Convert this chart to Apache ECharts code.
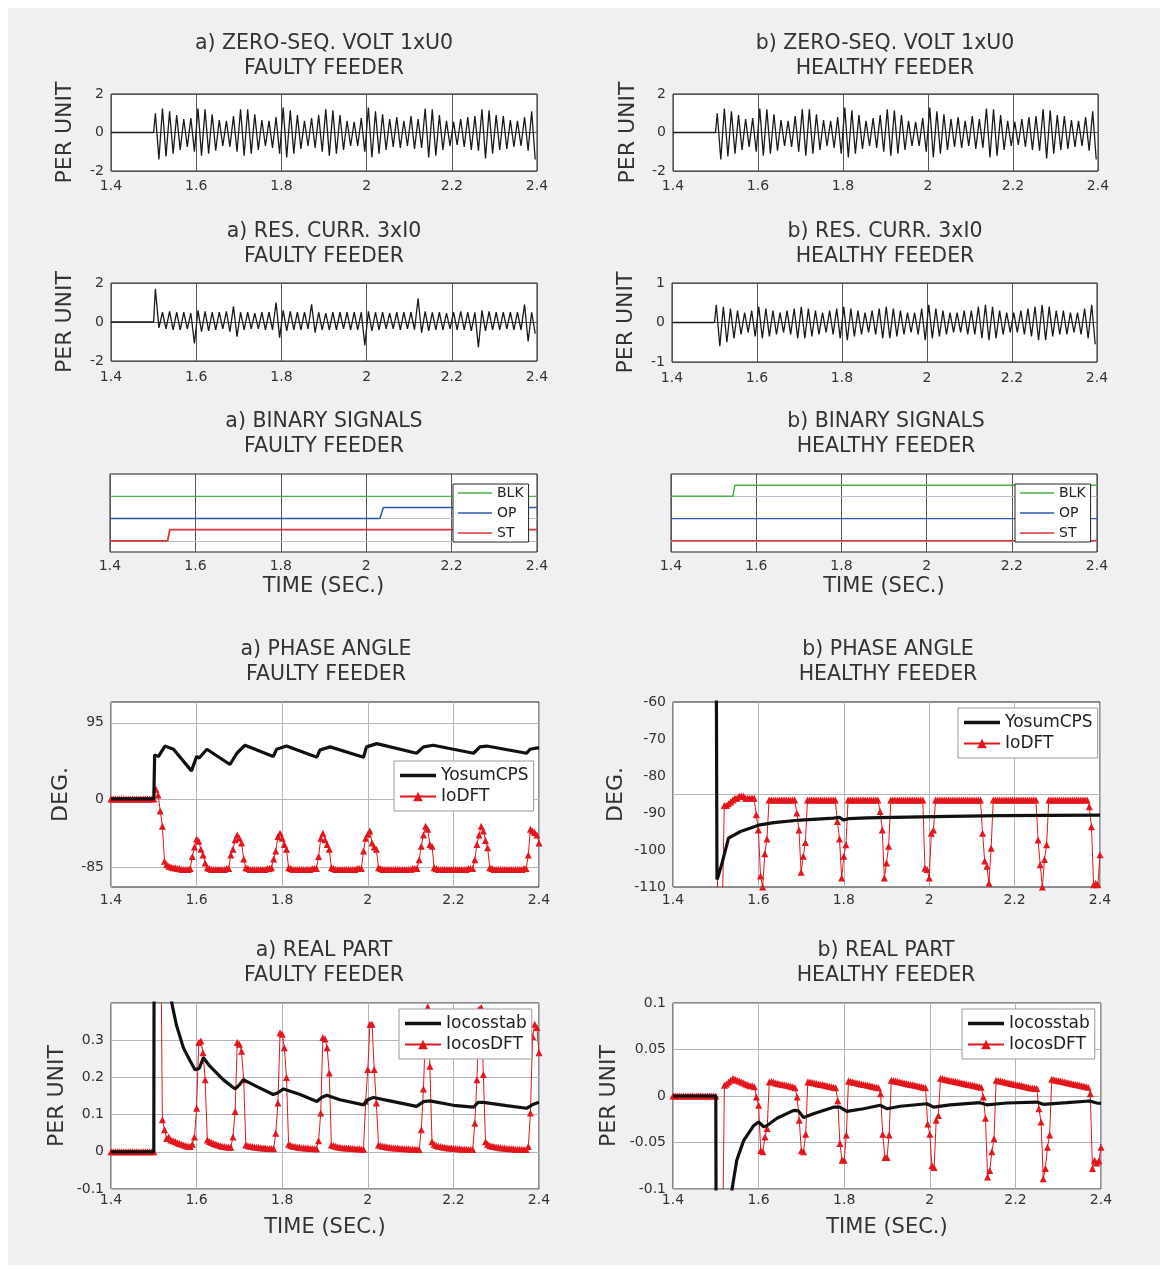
<!DOCTYPE html>
<html><head><meta charset="utf-8">
<script src="https://cdn.jsdelivr.net/npm/echarts@6/dist/echarts.min.js"></script>
<style>
html,body{margin:0;padding:0;background:#fff;}
#wrap{position:relative;width:1168px;height:1273px;}
#bg{position:absolute;left:8px;top:8px;width:1152px;height:1257px;background:#f0f0f2;}
#c{position:absolute;left:0;top:0;width:1168px;height:1273px;}
</style>
</head><body><div id="wrap"><div id="bg"></div><div id="c"></div></div>
<script>
// ---------- DATA ----------
const X_TICKS = [1.4, 1.6, 1.8, 2.0, 2.2, 2.4];

// zero-sequence voltage / residual current: successive half-cycle extremes (60 Hz), starting at 1.5 s
const WAVE_T0 = 1.5;
const WAVE_DT = 1 / 120;
const U0_PEAKS = [
  1.0,-1.4, 1.25,-1.25, 1.1,-1.1, 0.9,-0.9, 0.7,-0.75, 0.75,-1.0,
  1.25,-1.2, 1.2,-1.1, 0.95,-0.95, 0.65,-0.7, 0.6,-0.75, 0.85,-1.0,
  1.2,-1.2, 1.2,-1.1, 0.95,-0.9, 0.65,-0.7, 0.6,-0.8, 0.8,-1.1,
  1.3,-1.3, 1.15,-1.1, 0.9,-0.85, 0.6,-0.7, 0.75,-0.8, 0.9,-1.0,
  1.2,-1.2, 1.15,-1.1, 0.9,-0.9, 0.6,-0.7, 0.55,-0.7, 0.75,-1.0,
  1.3,-1.3, 1.1,-1.1, 0.95,-0.9, 0.7,-0.75, 0.8,-0.8, 0.6,-0.7, 0.85,-0.85, 0.7,-0.8,
  1.25,-1.3, 1.2,-1.2, 0.9,-0.9, 0.6,-0.7, 0.55,-0.65, 0.7,-0.75, 0.8,-0.9, 0.85,-0.95,
  1.2,-1.35, 1.15,-1.1, 0.9,-0.9, 0.85,-0.85, 0.65,-0.75, 0.6,-0.7, 0.8,-0.95, 1.1,-1.4
];
const IRES_A_PEAKS = [
  1.7,-0.3, 0.5,-0.35, 0.55,-0.4, 0.5,-0.4, 0.5,-0.35, 0.45,-1.1,
  0.6,-0.5, 0.55,-0.45, 0.5,-0.4, 0.5,-0.35, 0.55,-0.5, 0.8,-0.75,
  0.5,-0.4, 0.5,-0.35, 0.45,-0.35, 0.5,-0.4, 0.5,-0.4, 1.0,-0.8,
  0.6,-0.45, 0.55,-0.4, 0.5,-0.4, 0.5,-0.35, 0.9,-0.55, 0.5,-0.4,
  0.45,-0.4, 0.5,-0.4, 0.5,-0.35, 0.5,-0.4, 0.5,-0.4, 0.5,-1.2,
  0.55,-0.45, 0.5,-0.4, 0.5,-0.35, 0.45,-0.35, 0.5,-0.4, 0.5,-0.35, 0.5,-0.4, 1.2,-0.55,
  0.55,-0.45, 0.5,-0.4, 0.5,-0.4, 0.45,-0.35, 0.5,-0.4, 0.55,-0.4, 0.5,-0.45, 0.5,-1.3,
  0.6,-0.45, 0.55,-0.4, 0.5,-0.4, 0.5,-0.35, 0.5,-0.4, 0.5,-0.4, 0.9,-1.0, 0.5,-0.6
];
const IRES_B_PEAKS = [
  0.45,-0.6, 0.4,-0.5, 0.35,-0.4, 0.3,-0.3, 0.25,-0.25, 0.3,-0.35,
  0.4,-0.4, 0.35,-0.35, 0.3,-0.3, 0.25,-0.25, 0.3,-0.3, 0.35,-0.4,
  0.4,-0.4, 0.35,-0.35, 0.3,-0.3, 0.25,-0.25, 0.3,-0.3, 0.35,-0.4,
  0.4,-0.45, 0.35,-0.35, 0.3,-0.3, 0.25,-0.25, 0.3,-0.3, 0.35,-0.4,
  0.4,-0.4, 0.35,-0.35, 0.3,-0.3, 0.25,-0.25, 0.25,-0.3, 0.35,-0.45,
  0.45,-0.4, 0.35,-0.35, 0.3,-0.3, 0.25,-0.25, 0.25,-0.25, 0.3,-0.3, 0.3,-0.3, 0.4,-0.4,
  0.45,-0.45, 0.4,-0.4, 0.3,-0.3, 0.25,-0.25, 0.25,-0.25, 0.3,-0.3, 0.35,-0.35, 0.4,-0.45,
  0.45,-0.45, 0.4,-0.35, 0.3,-0.3, 0.3,-0.3, 0.25,-0.25, 0.25,-0.3, 0.35,-0.4, 0.45,-0.55
];

// binary signals (time breakpoints, levels)
const BLK_A_T = [1.4, 2.4];              const BLK_A_V = [4, 4];
const OP_A_T  = [1.4, 2.032, 2.04, 2.4]; const OP_A_V  = [2, 2, 3, 3];
const ST_A_T  = [1.4, 1.535, 1.54, 2.4]; const ST_A_V  = [0, 0, 1, 1];
const BLK_B_T = [1.4, 1.545, 1.55, 2.4]; const BLK_B_V = [4, 4, 5, 5];
const OP_B_T  = [1.4, 2.4];              const OP_B_V  = [2, 2];
const ST_B_T  = [1.4, 2.4];              const ST_B_V  = [0, 0];

// DFT outputs sampled every 5 ms from 1.40 s (rows of 10 samples = 50 ms)
const DFT_T0 = 1.4;
const DFT_DT = 0.005;
const PA_IODFT = [
  0,0,0,0,0,0,0,0,0,0,
  0,0,0,0,0,0,0,0,0,0,
  0,12,5,-15,-34,-78,-82,-84,-85,-86,
  -86,-87,-87,-88,-88,-88,-88,-87,-72,-60,
  -50,-53,-63,-70,-80,-86,-87,-88,-88,-88,
  -88,-88,-88,-88,-87,-87,-70,-63,-51,-45,
  -49,-55,-75,-86,-87,-88,-88,-88,-88,-88,
  -88,-88,-88,-87,-87,-86,-75,-65,-47,-43,
  -49,-57,-63,-86,-87,-88,-88,-88,-88,-88,
  -88,-88,-88,-88,-87,-87,-87,-72,-49,-43,
  -51,-57,-63,-86,-87,-88,-88,-88,-88,-88,
  -88,-88,-88,-88,-88,-87,-87,-87,-65,-49,
  -44,-40,-55,-60,-63,-86,-87,-88,-88,-88,
  -88,-88,-88,-88,-88,-88,-88,-88,-88,-88,
  -88,-87,-87,-87,-76,-59,-45,-34,-38,-57,
  -59,-86,-87,-88,-88,-88,-88,-88,-88,-88,
  -88,-88,-88,-88,-88,-88,-88,-87,-87,-87,
  -76,-57,-45,-34,-40,-52,-61,-86,-87,-88,
  -88,-88,-88,-88,-88,-88,-88,-88,-88,-88,
  -88,-88,-88,-87,-87,-70,-38,-40,-42,-45,
  -55
];
const PB_IODFT = [
  0,0,0,0,0,0,0,0,0,0,
  0,0,0,0,0,0,0,0,0,0,
  0,-130,-125,-120,-88,-88,-87.5,-87,-86.5,-86,
  -86,-85.5,-85.5,-85.5,-86,-86,-86,-86,-86,-90.5,
  -94.6,-107,-110,-101,-97,-86.5,-86.5,-86.5,-86.5,-86.5,
  -86.5,-86.5,-86.5,-86.5,-86.5,-86.5,-86.5,-86.5,-90,-94.6,
  -106,-101.7,-98,-86.5,-86.5,-86.5,-86.5,-86.5,-86.5,-86.5,
  -86.5,-86.5,-86.5,-86.5,-86.5,-86.5,-86.5,-92.3,-97,-107.6,
  -101.7,-98.6,-86.5,-86.5,-86.5,-86.5,-86.5,-86.5,-86.5,-86.5,
  -86.5,-86.5,-86.5,-86.5,-86.5,-86.5,-86.5,-89.6,-94.6,-107.6,
  -103.5,-99,-86.5,-86.5,-86.5,-86.5,-86.5,-86.5,-86.5,-86.5,
  -86.5,-86.5,-86.5,-86.5,-86.5,-86.5,-86.5,-86.5,-104.9,-105.3,
  -107.6,-95.5,-94.6,-86.5,-86.5,-86.5,-86.5,-86.5,-86.5,-86.5,
  -86.5,-86.5,-86.5,-86.5,-86.5,-86.5,-86.5,-86.5,-86.5,-86.5,
  -86.5,-86.5,-86.5,-86.5,-86.5,-95.5,-103,-104.4,-109,-99.5,
  -86.5,-86.5,-86.5,-86.5,-86.5,-86.5,-86.5,-86.5,-86.5,-86.5,
  -86.5,-86.5,-86.5,-86.5,-86.5,-86.5,-86.5,-86.5,-86.5,-86.5,
  -86.5,-97.3,-104,-110,-102.6,-98.6,-86.5,-86.5,-86.5,-86.5,
  -86.5,-86.5,-86.5,-86.5,-86.5,-86.5,-86.5,-86.5,-86.5,-86.5,
  -86.5,-86.5,-86.5,-86.5,-86.5,-88.3,-93.7,-109.4,-109,-109.4,
  -101.3
];
const RA_DFT = [
  0,0,0,0,0,0,0,0,0,0,
  0,0,0,0,0,0,0,0,0,0,
  0,1.2,1.0,0.8,0.086,0.059,0.036,0.04,0.032,0.03,
  0.028,0.024,0.022,0.02,0.018,0.016,0.015,0.014,0.02,0.04,
  0.117,0.294,0.298,0.266,0.194,0.032,0.028,0.025,0.022,0.02,
  0.018,0.016,0.015,0.014,0.013,0.012,0.012,0.04,0.108,0.294,
  0.289,0.27,0.194,0.018,0.016,0.015,0.014,0.013,0.012,0.012,
  0.011,0.01,0.01,0.009,0.009,0.009,0.008,0.05,0.131,0.32,
  0.316,0.28,0.2,0.02,0.017,0.015,0.014,0.013,0.012,0.011,
  0.011,0.01,0.01,0.009,0.009,0.008,0.008,0.03,0.104,0.307,
  0.303,0.28,0.212,0.018,0.016,0.015,0.013,0.012,0.011,0.011,
  0.01,0.01,0.009,0.009,0.008,0.008,0.008,0.007,0.007,0.136,
  0.221,0.343,0.343,0.221,0.131,0.018,0.016,0.015,0.014,0.013,
  0.012,0.011,0.011,0.01,0.01,0.009,0.009,0.008,0.008,0.008,
  0.007,0.007,0.007,0.006,0.006,0.059,0.169,0.33,0.39,0.23,
  0.027,0.02,0.017,0.015,0.014,0.013,0.012,0.011,0.01,0.01,
  0.009,0.009,0.008,0.008,0.007,0.007,0.007,0.006,0.006,0.006,
  0.077,0.194,0.384,0.388,0.208,0.027,0.02,0.017,0.015,0.014,
  0.013,0.012,0.011,0.01,0.01,0.009,0.009,0.008,0.008,0.007,
  0.007,0.007,0.006,0.006,0.006,0.014,0.104,0.31,0.343,0.334,
  0.266
];
const RB_DFT = [
  0,0,0,0,0,0,0,0,0,0,
  0,0,0,0,0,0,0,0,0,0,
  0,-0.5,-0.3,-0.2,0.0115,0.013,0.015,0.017,0.0187,0.018,
  0.017,0.016,0.015,0.014,0.013,0.012,0.011,0.011,0.01,-0.001,
  -0.01,-0.0586,-0.06,-0.044,-0.035,0.015,0.0155,0.015,0.014,0.0135,
  0.013,0.0125,0.012,0.0115,0.011,0.0105,0.01,0.009,-0.001,-0.026,
  -0.059,-0.06,-0.041,0.015,0.015,0.0145,0.014,0.0135,0.013,0.0125,
  0.012,0.0115,0.011,0.0105,0.01,0.0095,0.009,-0.005,-0.051,-0.069,
  -0.069,-0.042,0.016,0.0155,0.015,0.0145,0.014,0.0135,0.013,0.0125,
  0.012,0.0115,0.011,0.0105,0.01,0.0095,0.009,0.0025,-0.041,-0.066,
  -0.066,-0.042,0.017,0.0165,0.016,0.0155,0.015,0.0145,0.014,0.0135,
  0.013,0.0125,0.012,0.0115,0.011,0.0105,0.01,0.0095,0.009,-0.03,
  -0.041,-0.075,-0.077,-0.026,-0.021,0.019,0.0185,0.018,0.0175,0.017,
  0.0165,0.016,0.0155,0.015,0.0145,0.014,0.0135,0.013,0.0125,0.012,
  0.0115,0.011,0.0105,0.01,0.0095,-0.001,-0.024,-0.087,-0.08,-0.06,
  -0.046,0.017,0.0165,0.016,0.0155,0.015,0.0145,0.014,0.0135,0.013,
  0.0125,0.012,0.0115,0.011,0.0105,0.01,0.0095,0.009,0.0085,0.008,
  0.008,-0.0137,-0.028,-0.089,-0.078,-0.055,-0.042,0.018,0.0175,0.017,
  0.0165,0.016,0.0155,0.015,0.0145,0.014,0.0135,0.013,0.0125,0.012,
  0.0115,0.011,0.0105,0.01,0.0095,0.0025,-0.078,-0.069,-0.072,-0.07,
  -0.055
];

// stabilised outputs (time breakpoints, values)
const PA_YOSUM_T = [1.40,1.50,1.502,1.511,1.526,1.546,1.588,1.600,1.606,1.624,1.678,1.694,1.713,1.779,1.787,1.810,1.881,1.888,1.912,1.990,1.997,2.021,2.114,2.130,2.153,2.247,2.262,2.278,2.371,2.379,2.400];
const PA_YOSUM_V = [0,0,55,53,66,62,35,53,51,62,43,57,67,53,62,66,52,61,65,52,65,69,57,65,67,57,65,66,57,62,64];
const PB_YOSUM_T = [1.40,1.50,1.503,1.506,1.515,1.530,1.558,1.604,1.636,1.698,1.776,1.790,1.800,1.812,1.854,2.010,2.166,2.400];
const PB_YOSUM_V = [0,0,-108,-107,-103.5,-96.8,-95,-93.2,-92.6,-91.9,-91.4,-91.2,-91.9,-91.5,-91.3,-91,-90.7,-90.6];
const RA_STAB_T = [1.40,1.50,1.502,1.52,1.535,1.542,1.553,1.569,1.585,1.596,1.606,1.616,1.631,1.662,1.690,1.700,1.709,1.740,1.779,1.789,1.803,1.842,1.881,1.892,1.904,1.935,1.990,2.000,2.013,2.060,2.114,2.130,2.145,2.200,2.247,2.258,2.270,2.324,2.371,2.387,2.400];
const RA_STAB_V = [0,0,1.5,0.9,0.55,0.40,0.34,0.28,0.244,0.221,0.224,0.253,0.23,0.194,0.169,0.18,0.194,0.176,0.154,0.158,0.169,0.154,0.135,0.146,0.152,0.14,0.126,0.14,0.146,0.135,0.122,0.135,0.137,0.125,0.12,0.133,0.133,0.124,0.117,0.128,0.133];
const RB_STAB_T = [1.40,1.50,1.503,1.52,1.53,1.538,1.549,1.565,1.588,1.600,1.612,1.619,1.643,1.682,1.693,1.705,1.728,1.775,1.790,1.806,1.845,1.884,1.900,1.931,1.993,2.009,2.047,2.117,2.133,2.180,2.250,2.265,2.320,2.374,2.390,2.400];
const RB_STAB_V = [0,0,-0.6,-0.3,-0.15,-0.1,-0.069,-0.048,-0.032,-0.028,-0.033,-0.032,-0.024,-0.0155,-0.016,-0.023,-0.019,-0.012,-0.012,-0.0165,-0.0137,-0.010,-0.0137,-0.011,-0.0083,-0.012,-0.0095,-0.0072,-0.0095,-0.0075,-0.0065,-0.009,-0.0072,-0.0054,-0.0075,-0.008];

const PA_Y_TICKS = [-85, 0, 95];

// ---------- BUILD ----------
const FONT = '"DejaVu Sans", "Open Sans", sans-serif';
const TXT = '#333';
const RED = '#e3161d';
const BLACK = '#111';

function waveData(peaks) {
  const d = [[1.4, 0], [WAVE_T0, 0]];
  peaks.forEach((v, k) => d.push([WAVE_T0 + (k + 0.5) * WAVE_DT, v]));
  return d;
}
function dftData(arr) { return arr.map((v, i) => [Math.round((DFT_T0 + i * DFT_DT) * 1000) / 1000, v]); }
function pairData(T, V) { return T.map((t, i) => [t, V[i]]); }

const G = [
  {left:111, top:94,  width:426, height:77},
  {left:673, top:94,  width:425, height:77},
  {left:111, top:283, width:426, height:78},
  {left:672, top:283, width:425, height:79},
  {left:110, top:474, width:427, height:78},
  {left:671, top:474, width:426, height:78},
  {left:111, top:702, width:428, height:185},
  {left:673, top:702, width:427, height:185},
  {left:111, top:1003, width:428, height:186},
  {left:673, top:1003, width:428, height:186}
];
const grid = G.map(g => Object.assign({show:true, backgroundColor:'#fff', borderColor:'#222', borderWidth:1, containLabel:false}, g));

const yNameStyle = {fontSize:22, color:TXT, fontFamily:FONT};
const xNameStyle = {fontSize:21, color:TXT, fontFamily:FONT};
function xAx(g, splitColor, margin, name, gap) {
  return {type:'value', gridIndex:g, min:X_TICKS[0], max:X_TICKS[X_TICKS.length-1], interval:0.2,
    axisLine:{show:false}, axisTick:{show:false},
    axisLabel:{fontSize:14, color:TXT, fontFamily:FONT, margin:margin},
    splitLine:{show:true, lineStyle:{color:splitColor, width:1}},
    name:name || '', nameLocation:'middle', nameGap:gap || 0, nameTextStyle:xNameStyle};
}
const yLab = {fontSize:14, color:TXT, fontFamily:FONT, margin:7};
function yAx(g, o) {
  return Object.assign({type:'value', gridIndex:g, axisLine:{show:false}, axisTick:{show:false},
    axisLabel:yLab, splitLine:{show:false}, nameLocation:'middle', nameTextStyle:yNameStyle}, o);
}
const DARK = '#555', LIGHT = '#b5b5b5';
const xAxis = [
  xAx(0, DARK, 8), xAx(1, DARK, 8), xAx(2, DARK, 9), xAx(3, DARK, 9),
  xAx(4, DARK, 7, 'TIME (SEC.)', 24), xAx(5, DARK, 7, 'TIME (SEC.)', 24),
  xAx(6, LIGHT, 6), xAx(7, LIGHT, 6),
  xAx(8, LIGHT, 4, 'TIME (SEC.)', 28), xAx(9, LIGHT, 4, 'TIME (SEC.)', 28)
];
const yAxis = [
  yAx(0, {min:-2, max:2, interval:2, name:'PER UNIT', nameGap:35, splitLine:{show:true, lineStyle:{color:DARK}}}),
  yAx(1, {min:-2, max:2, interval:2, name:'PER UNIT', nameGap:34, splitLine:{show:true, lineStyle:{color:DARK}}}),
  yAx(2, {min:-2, max:2, interval:2, name:'PER UNIT', nameGap:35, splitLine:{show:true, lineStyle:{color:DARK}}}),
  yAx(3, {min:-1, max:1, interval:1, name:'PER UNIT', nameGap:35, splitLine:{show:true, lineStyle:{color:DARK}}}),
  yAx(4, {min:-1, max:6, interval:1, axisLabel:{show:false}}),
  yAx(5, {min:-1, max:6, interval:1, axisLabel:{show:false}}),
  yAx(6, {min:-110, max:121, name:'DEG.', nameGap:39, axisLabel:Object.assign({customValues:PA_Y_TICKS}, yLab)}),
  yAx(7, {min:-110, max:-60, interval:10, name:'DEG.', nameGap:46}),
  yAx(8, {min:-0.1, max:0.4, interval:0.1, name:'PER UNIT', nameGap:43,
    splitLine:{show:true, lineStyle:{color:LIGHT}},
    axisLabel:Object.assign({}, yLab, {formatter:v => (v > 0.35 ? '' : String(+v.toFixed(2)))})}),
  yAx(9, {min:-0.1, max:0.1, interval:0.05, name:'PER UNIT', nameGap:53, splitLine:{show:true, lineStyle:{color:LIGHT}}})
];

function hLines(i, vals, color) {
  return {type:'line', xAxisIndex:i, yAxisIndex:i, data:[], silent:true, z:1,
    markLine:{silent:true, z:1, symbol:['none','none'], label:{show:false}, animation:false,
      lineStyle:{color:color, width:1, type:'solid'}, emphasis:{disabled:true},
      data:vals.map(v => ({yAxis:v}))}};
}
function plain(i, name, data, color, width) {
  return {type:'line', name:name, xAxisIndex:i, yAxisIndex:i, data:data, symbol:'none', showSymbol:false,
    lineStyle:{color:color, width:width}, itemStyle:{color:color}, animation:false, z:3, emphasis:{disabled:true}};
}
function marked(i, name, data) {
  return {type:'line', name:name, xAxisIndex:i, yAxisIndex:i, data:data, symbol:'triangle', symbolSize:7, showSymbol:true,
    lineStyle:{color:RED, width:1}, itemStyle:{color:RED}, animation:false, z:2, emphasis:{disabled:true}};
}
const GREEN = '#49b049', BLUE = '#2a5aa8', BRED = '#e0303a';
const series = [
  plain(0, 'U0a', waveData(U0_PEAKS), '#1a1a1a', 1.3),
  plain(1, 'U0b', waveData(U0_PEAKS), '#1a1a1a', 1.3),
  plain(2, 'I0a', waveData(IRES_A_PEAKS), '#1a1a1a', 1.3),
  plain(3, 'I0b', waveData(IRES_B_PEAKS), '#1a1a1a', 1.3),
  hLines(4, [0, 2, 4], '#b8bfcc'),
  hLines(5, [0, 2, 4], '#b8bfcc'),
  plain(4, 'BLK', pairData(BLK_A_T, BLK_A_V), GREEN, 1.2),
  plain(4, 'OP', pairData(OP_A_T, OP_A_V), BLUE, 1.5),
  plain(4, 'ST', pairData(ST_A_T, ST_A_V), BRED, 1.8),
  plain(5, 'BLK', pairData(BLK_B_T, BLK_B_V), GREEN, 1.5),
  plain(5, 'OP', pairData(OP_B_T, OP_B_V), BLUE, 1.2),
  plain(5, 'ST', pairData(ST_B_T, ST_B_V), BRED, 1.5),
  hLines(6, PA_Y_TICKS, LIGHT),
  marked(6, 'IoDFT', dftData(PA_IODFT)),
  plain(6, 'YosumCPS', pairData(PA_YOSUM_T, PA_YOSUM_V), BLACK, 3.2),
  hLines(7, [-85], LIGHT),
  marked(7, 'IoDFT', dftData(PB_IODFT)),
  plain(7, 'YosumCPS', pairData(PB_YOSUM_T, PB_YOSUM_V), BLACK, 3.2),
  marked(8, 'IocosDFT', dftData(RA_DFT)),
  plain(8, 'Iocosstab', pairData(RA_STAB_T, RA_STAB_V), BLACK, 3.2),
  marked(9, 'IocosDFT', dftData(RB_DFT)),
  plain(9, 'Iocosstab', pairData(RB_STAB_T, RB_STAB_V), BLACK, 3.2)
];

const THIN = 'path://M0,0H34V1.3H0Z';
const THICK = 'path://M0,0H36V3.6H0Z';
function leg(left, top, items, o) {
  return Object.assign({orient:'vertical', left:left, top:top, data:items, backgroundColor:'#fff',
    borderWidth:1, borderRadius:0, selectedMode:false, itemHeight:12}, o);
}
const binLeg = {borderColor:'#222', itemWidth:34, itemGap:6, padding:[2,5,2,5],
  textStyle:{fontSize:14, color:'#222', fontFamily:FONT}};
const bigLeg = {borderColor:'#999', itemWidth:36, itemGap:4, padding:[6,5,6,5],
  textStyle:{fontSize:17, color:'#222', fontFamily:FONT}};
const binItems = [{name:'BLK', icon:THIN}, {name:'OP', icon:THIN}, {name:'ST', icon:THIN}];
const legend = [
  leg(453, 484, binItems, binLeg),
  leg(1015, 484, binItems, binLeg),
  leg(394, 761, [{name:'YosumCPS', icon:THICK}, {name:'IoDFT'}], bigLeg),
  leg(958, 708, [{name:'YosumCPS', icon:THICK}, {name:'IoDFT'}], bigLeg),
  leg(399, 1009, [{name:'Iocosstab', icon:THICK}, {name:'IocosDFT'}], bigLeg),
  leg(962, 1009, [{name:'Iocosstab', icon:THICK}, {name:'IocosDFT'}], bigLeg)
];

const TITLES = [
  ['a) ZERO-SEQ. VOLT 1xU0\nFAULTY FEEDER', 324, 31],
  ['b) ZERO-SEQ. VOLT 1xU0\nHEALTHY FEEDER', 885, 31],
  ['a) RES. CURR. 3xI0\nFAULTY FEEDER', 324, 219],
  ['b) RES. CURR. 3xI0\nHEALTHY FEEDER', 885, 219],
  ['a) BINARY SIGNALS\nFAULTY FEEDER', 324, 409],
  ['b) BINARY SIGNALS\nHEALTHY FEEDER', 886, 409],
  ['a) PHASE ANGLE\nFAULTY FEEDER', 326, 637],
  ['b) PHASE ANGLE\nHEALTHY FEEDER', 888, 637],
  ['a) REAL PART\nFAULTY FEEDER', 324, 938],
  ['b) REAL PART\nHEALTHY FEEDER', 886, 938]
];
const graphic = TITLES.map(t => ({type:'text', x:t[1], y:t[2], silent:true,
  style:{text:t[0], textAlign:'center', textVerticalAlign:'top', fill:TXT, fontSize:20.5, lineHeight:25, fontFamily:FONT}}));

const chart = echarts.init(document.getElementById('c'), null, {renderer:'canvas'});
chart.setOption({animation:false, grid, xAxis, yAxis, series, legend, graphic});
</script></body></html>
